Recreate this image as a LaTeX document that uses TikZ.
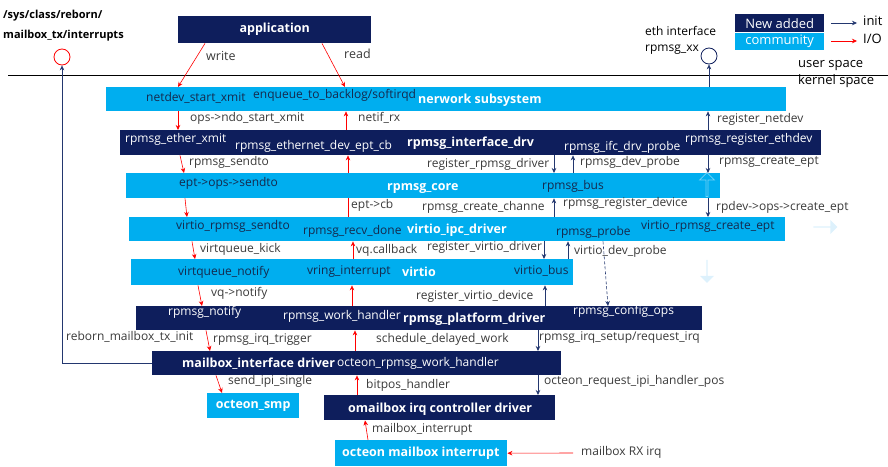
\documentclass[tikz,border=0pt]{standalone}
\usepackage{fontspec}
\setmainfont{Open Sans}
\usetikzlibrary{positioning,
                arrows.meta,                % arrow tips
                shapes.arrows}              % pale block arrows

\definecolor{navy}{HTML}{0E1E5C}
\definecolor{comm}{HTML}{00AEEF}
\definecolor{initblue}{HTML}{23376F}
\definecolor{lblgray}{HTML}{3A3A3A}
\definecolor{intxt}{HTML}{15294D}
\definecolor{pale}{HTML}{DDF1FC}

\tikzset{
  navybox/.style={fill=navy, inner sep=0pt, anchor=north west},
  commbox/.style={fill=comm, inner sep=0pt, anchor=north west},
  title/.style={font=\bfseries\fontsize{12.5}{14}\selectfont, text=white,
                anchor=west, inner sep=0pt, text height=9pt, text depth=3pt},
  lbl/.style={font=\fontsize{12}{14}\selectfont, text=lblgray, anchor=west,
              inner sep=0pt, text height=8pt, text depth=2.5pt},
  onnavy/.style={lbl, text=white},
  oncomm/.style={lbl, text=intxt},
  bigger/.style={lbl, font=\fontsize{13}{15}\selectfont, text=black},
  headtip/.style={-{Stealth[length=5pt, width=4.5pt]}},
  io/.style={red, headtip, line width=0.6pt},
  init/.style={initblue, headtip, line width=0.6pt},
  ghost/.style={single arrow, inner sep=0pt, single arrow head extend=2.5pt},
}

\begin{document}
\begin{tikzpicture}[x=1pt, y=-1pt]
  \useasboundingbox (0,0) rectangle (888,466);

  % user space / kernel space
  \draw[black, line width=0.6pt] (8,75) -- (888,75);
  \node[bigger] (uspace) at (798,65) {user space};
  \node[bigger] (kspace) at (798,82) {kernel space};

  % boxes
  \node[navybox, minimum width=193pt, minimum height=27pt] (app) at (178,16) {};
  \node[commbox, minimum width=680pt, minimum height=24pt] (netsub) at (106,87) {};
  \node[navybox, minimum width=701pt, minimum height=25pt] (ifdrv) at (120,130) {};
  \node[commbox, minimum width=594pt, minimum height=25pt] (core) at (126,173) {};
  \node[commbox, minimum width=656pt, minimum height=24pt] (ipcdrv) at (129,217) {};
  \node[commbox, minimum width=442pt, minimum height=26pt] (virtio) at (131,259) {};
  \node[navybox, minimum width=566pt, minimum height=24pt] (platdrv) at (136,306) {};
  \node[navybox, minimum width=409pt, minimum height=24pt] (mbox) at (152,351) {};
  \node[commbox, minimum width=92pt, minimum height=25pt] (smp) at (207,393) {};
  \node[navybox, minimum width=231pt, minimum height=25pt] (irqctl) at (324,395) {};
  \node[commbox, minimum width=172pt, minimum height=26pt] (mboxirq) at (335,440) {};

  % titles
  \node[title, anchor=center] (apptxt) at (app.center) {application};
  \node[title] (nettxt) at (418,100) {nerwork subsystem};
  \node[title] (iftxt) at (407,143) {rpmsg\_interface\_drv};
  \node[title] (coretxt) at (387,187) {rpmsg\_core};
  \node[title] (ipctxt) at (407,230) {virtio\_ipc\_driver};
  \node[title] (virtiotxt) at (402,273) {virtio};
  \node[title] (plattxt) at (403,319) {rpmsg\_platform\_driver};
  \node[title] (mboxtxt) at (182,364) {mailbox\_interface driver};
  \node[title, anchor=center] (smptxt) at (smp.center) {octeon\_smp};
  \node[title] (irqtxt) at (348,409) {omailbox irq controller driver};
  \node[title] (mirqtxt) at (342,453) {octeon mailbox interrupt};

  % texts inside the boxes
  \node[oncomm] (ndxmit) at (146,99) {netdev\_start\_xmit};
  \node[oncomm] (enq) at (253,96) {enqueue\_to\_backlog/softirqd};
  \node[onnavy] (ethxmit) at (125,140) {rpmsg\_ether\_xmit};
  \node[onnavy] (eptcb) at (235,147) {rpmsg\_ethernet\_dev\_ept\_cb};
  \node[onnavy] (ifcprobe) at (564,148) {rpmsg\_ifc\_drv\_probe};
  \node[onnavy] (regeth) at (685,140) {rpmsg\_register\_ethdev};
  \node[oncomm] (eptsend) at (179,184) {ept->ops->sendto};
  \node[oncomm] (rbus) at (542,187) {rpmsg\_bus};
  \node[oncomm] (vsend) at (176,227) {virtio\_rpmsg\_sendto};
  \node[oncomm] (recvd) at (303,232) {rpmsg\_recv\_done};
  \node[oncomm] (rprobe) at (556,233) {rpmsg\_probe};
  \node[oncomm] (vcept) at (641,227) {virtio\_rpmsg\_create\_ept};
  \node[oncomm] (vqnotify) at (178,273) {virtqueue\_notify};
  \node[oncomm] (vring) at (307,272) {vring\_interrupt};
  \node[oncomm] (vbus) at (514,272) {virtio\_bus};
  \node[onnavy] (rnotify) at (168,313) {rpmsg\_notify};
  \node[onnavy] (rwork) at (283,317) {rpmsg\_work\_handler};
  \node[onnavy] (cfgops) at (573,312) {rpmsg\_config\_ops};
  \node[onnavy] (owork) at (337,364) {octeon\_rpmsg\_work\_handler};

  % call labels
  \node[lbl, font=\fontsize{12.5}{14}\selectfont] (write) at (206,58) {write};
  \node[lbl, font=\fontsize{12.5}{14}\selectfont] (read) at (344,56) {read};
  \node[lbl] (ndo) at (190,119) {ops->ndo\_start\_xmit};
  \node[lbl] (netifrx) at (358,119) {netif\_rx};
  \node[lbl] (regnet) at (717,120) {register\_netdev};
  \node[lbl] (sendto) at (189,163) {rpmsg\_sendto};
  \node[lbl] (regdrv) at (427,165) {register\_rpmsg\_driver};
  \node[lbl] (devprobe) at (580,163) {rpmsg\_dev\_probe};
  \node[lbl] (crept) at (719,162) {rpmsg\_create\_ept};
  \node[lbl] (eptcbl) at (351,206) {ept->cb};
  \node[lbl] (crchan) at (422,208) {rpmsg\_create\_channe};
  \node[lbl] (regdev) at (563,204) {rpmsg\_register\_device};
  \node[lbl] (opscrept) at (716,208) {rpdev->ops->create\_ept};
  \node[lbl] (vqkick) at (200,250) {virtqueue\_kick};
  \node[lbl] (vqcb) at (356,251) {vq.callback};
  \node[lbl] (regvdrv) at (427,248) {register\_virtio\_driver};
  \node[lbl] (vdprobe) at (574,252) {virtio\_dev\_probe};
  \node[lbl] (vqnot) at (211,294) {vq->notify};
  \node[lbl] (regvdev) at (416,297) {register\_virtio\_device};
  \node[lbl] (txinit) at (66,338) {reborn\_mailbox\_tx\_init};
  \node[lbl] (irqtrig) at (213,340) {rpmsg\_irq\_trigger};
  \node[lbl] (schedw) at (376,340) {schedule\_delayed\_work};
  \node[lbl] (irqsetup) at (539,338) {rpmsg\_irq\_setup/request\_irq};
  \node[lbl] (ipisingle) at (228,382) {send\_ipi\_single};
  \node[lbl] (bitpos) at (366,386) {bitpos\_handler};
  \node[lbl] (ipipos) at (544,382) {octeon\_request\_ipi\_handler\_pos};
  \node[lbl] (mbint) at (372,430) {mailbox\_interrupt};
  \node[lbl] (rxirq) at (581,453) {mailbox RX irq};

  % interfaces to user space
  \node[lbl, font=\bfseries\fontsize{11}{13}\selectfont, text=black] (sysfs1) at (3,16) {/sys/class/reborn/};
  \node[lbl, font=\bfseries\fontsize{11}{13}\selectfont, text=black] (sysfs2) at (3,36) {mailbox\_tx/interrupts};
  \node[circle, draw=red, line width=0.8pt, minimum size=16pt, inner sep=0pt] (sysif) at (62,57) {};
  \node[lbl, text=black] (eth1) at (645,33) {eth interface};
  \node[lbl, text=black] (eth2) at (645,49) {rpmsg\_xx};
  \node[circle, draw=navy, line width=0.8pt, minimum size=16pt, inner sep=0pt] (ethif) at (709,56) {};

  % legend
  \node[navybox, minimum width=89pt, minimum height=18pt, text=white,
        font=\fontsize{13}{15}\selectfont] (newadd) at (735,14) {New added};
  \node[commbox, minimum width=89pt, minimum height=17pt, text=white,
        font=\fontsize{13}{15}\selectfont] (commun) at (735,33) {community};
  \node[bigger] (initlbl) at (863,23) {init};
  \node[bigger] (iolbl) at (863,41) {I/O};
  \coordinate (initsrc) at (831,23);
  \coordinate (iosrc) at (831,41);
  \draw[init] (initsrc) -- ++(26,0);
  \draw[io] (iosrc) -- ++(26,0);

  % pale block arrows
  \node[ghost, draw=comm!55!white, line width=0.7pt, shape border rotate=90,
        minimum height=24pt, minimum width=15pt] (upghost) at (707,185) {};
  \node[ghost, fill=pale, minimum height=24pt, minimum width=14pt] (rightghost) at (825,227) {};
  \node[ghost, fill=pale, shape border rotate=270,
        minimum height=23pt, minimum width=14pt] (downghost) at (707,271) {};

  % I/O path
  \draw[io] (app.south -| 205,0) -- (netsub.north -| 178,0);
  \draw[io] (app.south -| 322,0) -- (netsub.north -| 345,0);
  \draw[io] (netsub.south -| 178,0) -- (ifdrv.north -| 178,0);
  \draw[io] (ifdrv.north -| 346,0) -- (netsub.south -| 346,0);
  \draw[io] (ifdrv.south -| 180,0) -- (core.north -| 184,0);
  \draw[io] (core.north -| 348,0) -- (ifdrv.south -| 348,0);
  \draw[red, line width=0.6pt] (ipcdrv.north -| 348,0) -- (core.south -| 348,0);
  \draw[io] (core.south -| 185,0) -- (ipcdrv.north -| 187,0);
  \draw[io] (ipcdrv.south -| 192,0) -- (virtio.north -| 195,0);
  \draw[io] (virtio.north -| 353,0) -- (ipcdrv.south -| 353,0);
  \draw[io] (virtio.south -| 198,0) -- (platdrv.north -| 202,0);
  \draw[io] (platdrv.north -| 352,0) -- (virtio.south -| 352,0);
  \draw[io] (platdrv.south -| 206,0) -- (mbox.north -| 210,0);
  \draw[io] (mbox.north -| 355,0) -- (platdrv.south -| 355,0);
  \draw[io] (mbox.south -| 216,0) -- (smp.north -| 222,0);
  \draw[io] (irqctl.north -| 357,0) -- (mbox.south -| 357,0);
  \draw[io] (mboxirq.north -| 368,0) -- (irqctl.south -| 365,0);
  \coordinate (rxsrc) at (573,453);
  \draw[io] (rxsrc) -- (mboxirq.east);

  % init path
  \draw[init] (netsub.north -| ethif.south) -- (ethif.south);
  \draw[init] (ifdrv.north -| 708,0) -- (netsub.south -| 708,0);
  \draw[init] (ifdrv.south -| 554,0) -- (core.north -| 554,0);
  \draw[init] (core.north -| 573,0) -- (ifdrv.south -| 573,0);
  \draw[init] (ifdrv.south -| 708,0) -- (core.north -| 708,0);
  \draw[init] (ipcdrv.north -| 554,0) -- (core.south -| 554,0);
  \draw[init] (core.south -| 708,0) -- (ipcdrv.north -| 708,0);
  \draw[init] (ipcdrv.south -| 544,0) -- (virtio.north -| 544,0);
  \draw[init] (virtio.north -| 568,0) -- (ipcdrv.south -| 568,0);
  \draw[init, densely dashed] (ipcdrv.south -| 603,0) -- (platdrv.north -| 608,0);
  \draw[init] (platdrv.north -| 545,0) -- (virtio.south -| 545,0);
  \draw[init] (platdrv.south -| 538,0) -- (mbox.north -| 538,0);
  \draw[init] (mbox.south -| 538,0) -- (irqctl.north -| 538,0);
  \draw[init] (mbox.west) -| (sysif.south);

\end{tikzpicture}
\end{document}
